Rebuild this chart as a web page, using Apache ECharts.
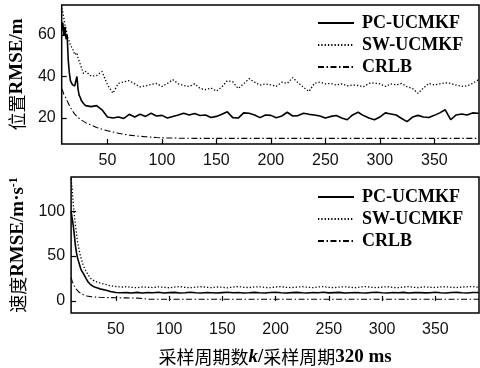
<!DOCTYPE html>
<html>
<head>
<meta charset="utf-8">
<script src="https://cdn.jsdelivr.net/npm/echarts@6/dist/echarts.min.js"></script>
<style>html,body{margin:0;padding:0;background:#fff;}#c{width:480px;height:368px;}</style>
</head>
<body>
<div id="c"></div>
<script>
// sampling periods k
const kValues = [8,9,10,11,12,13,14,15,16,17,18,19,20,21,22,23,24,25,26,27,28,29,30,
  35,40,45,50,55,60,65,70,75,80,85,90,95,100,105,110,115,120,125,130,135,140,145,150,
  155,160,165,170,175,180,185,190,195,200,205,210,215,220,225,230,235,240,245,250,
  255,260,265,270,275,280,285,290,295,300,305,310,315,320,325,330,335,340,345,350,
  355,360,365,370,375,380,385,390,391];
const xTicks = [50,100,150,200,250,300,350];
const posTicks = [20,40,60];
const velTicks = [0,50,100];
const seriesNames = ['PC-UCMKF','SW-UCMKF','CRLB'];

// position RMSE (m)
const pcPos = [62,66,60,64,58,60,48,42,38,37,36,36.5,35.5,38,40,34,31,30,28.5,28,27,27.5,26,
  25.5,26,24,20.5,20,20.5,19.8,21.8,20.5,21.8,20.8,22.3,21,21.3,20,20.8,21.5,22.3,21.5,22.2,21.2,21.5,20.3,20.8,
  21.8,23,20.2,20,22.5,22.3,21.5,20.2,21.5,21.3,20.2,21,22.8,21,21.2,22.3,21.8,21.5,21,20,
  20.8,21.2,20,19.2,21.5,22.8,21.2,20,19.2,20.5,22.5,22,21.5,19.8,18.3,20.5,21.3,20.5,20.3,21.3,
  22.5,24,19.2,21.5,22,21.5,22.5,22.3,22.3];
const swPos = [73,71,68,65,63,60,58,57,55,54.5,53.5,52,50.5,50,51.5,49,47.5,46,44.5,43,41.5,42,42.5,
  40.2,40.5,42.5,36,32,36.7,37.5,38,36.5,35,35.5,36.2,36.7,35.2,36.7,38.5,36.5,35.7,35.2,36.5,34.3,33.7,34.5,33,
  35,38,37.5,34.3,36.5,39,37.3,35.9,36.5,36,35.3,37.3,36.7,39.5,37,34.8,32.8,36.8,37.3,36.5,
  36.7,35.9,36.5,35.5,36,35.7,35.1,36.7,37,36.5,35.2,36.5,36,36.7,35.1,34.3,31.9,34.5,36.7,35.9,
  36.5,37,36.7,35.9,35.3,35.5,36.7,38.3,38];
const crlbPos = [34,33,31.5,30.5,29.5,28.3,27.2,26.2,25.2,24.3,23.3,22.6,21.9,21.3,20.8,20.3,19.9,19.5,19.1,18.7,18.4,18.1,17.8,
  16.6,15.5,14.6,13.9,13.3,12.7,12.2,11.8,11.5,11.2,11,10.8,10.6,10.5,10.4,10.4,10.3,10.3,10.3,10.2,10.2,10.2,10.2,10.2,
  10.2,10.2,10.2,10.2,10.2,10.2,10.2,10.2,10.2,10.2,10.2,10.2,10.2,10.2,10.2,10.2,10.2,10.2,10.2,10.2,
  10.2,10.2,10.2,10.2,10.2,10.2,10.2,10.2,10.2,10.2,10.2,10.2,10.2,10.2,10.2,10.2,10.2,10.2,10.2,10.2,
  10.2,10.2,10.2,10.2,10.2,10.2,10.2,10.2,10.2];

// velocity RMSE (m/s)
const pcVel = [100,92,84,74,62,54,48,44,40,36,33.5,31.5,29.5,27.5,25,23,21,19.5,18.5,17.5,16.7,16,15.5,
  13.4,12.2,10.5,9.3,9,9.2,8.8,9.5,8.7,9.3,9,9.6,8.8,9.2,9.5,8.7,9.1,9.6,9,8.8,9.4,9.1,8.7,9.2,
  9.6,9,9.3,8.8,9.1,9.5,9,8.7,9.3,9.6,9.1,8.8,9.2,9.5,9,8.7,9.3,9.1,9.6,8.9,
  9.2,9.5,8.8,9.1,9.4,9,8.7,9.3,9.6,9.1,8.8,9.4,9,9.5,8.7,9.2,9.4,8.9,9.1,9.6,
  9,8.8,9.3,9.5,9,8.8,9.3,9.4,9.2];
const swVel = [136,125,108,96,85,76,66,60,54,49,45,41,38,36,33,31,29,27,25.5,24.5,23.5,22.8,22,
  20,18.5,16.8,16,15.3,15.8,15,14.7,15.5,15.2,14.8,15.6,15.1,14.6,15.4,15.9,15,14.7,15.3,15.8,15.1,14.8,15.5,15.2,
  14.6,15.4,15.9,15.2,14.8,15.5,15.7,15,14.7,15.4,15.9,15.1,14.8,15.3,15.8,15.2,14.7,15.5,15.9,15,
  14.8,15.4,15.7,15.1,14.7,15.5,15.9,15.2,14.8,15.3,15.8,15,14.7,15.4,15.9,15.1,14.8,15.6,15.2,14.9,
  15.5,15.8,15.1,14.8,15.4,15.7,15.9,15.2,15.4];
const crlbVel = [26,22,19,16.5,14.5,12.8,11.3,10.2,9.2,8.4,7.7,7.1,6.6,6.2,5.8,5.5,5.2,5,4.8,4.6,4.4,4.3,4.1,
  4,3.8,3.6,3.5,3.4,3.3,3.2,3.1,2.6,1.9,1.8,1.8,1.8,1.8,1.8,1.8,1.8,1.8,1.8,1.8,1.8,1.8,1.8,1.8,
  1.8,1.8,1.8,1.8,1.8,1.8,1.8,1.8,1.8,1.8,1.8,1.8,1.8,1.8,1.8,1.8,1.8,1.8,1.8,1.8,
  1.8,1.8,1.8,1.8,1.8,1.8,1.8,1.8,1.8,1.8,1.8,1.8,1.8,1.8,1.8,1.8,1.8,1.8,1.8,1.8,
  1.8,1.8,1.8,1.8,1.8,1.8,1.8,1.8,1.8];

const pairs = arr => kValues.map((k, i) => [k, arr[i]]);
const SERIF = 'Liberation Serif';
const SANS = 'Liberation Sans';
const CJK = 'Noto Sans CJK SC';

const styles = [
  { type: 'solid', width: 1.6 },
  { type: [1.3, 2], width: 1.3 },
  { type: [6, 2.5, 1.5, 2.5], width: 1.1 }
];

function mkSeries(name, idx, data, axisIdx) {
  return {
    type: 'line', name: name, xAxisIndex: axisIdx, yAxisIndex: axisIdx,
    data: pairs(data), symbol: 'none', showSymbol: false, smooth: false,
    lineStyle: Object.assign({ color: '#000' }, styles[idx]),
    itemStyle: { color: '#000' }, animation: false, silent: true
  };
}

function xAx(gi, withName) {
  const a = {
    type: 'value', gridIndex: gi, min: 8, max: 391,
    axisLine: { show: false },
    axisTick: { show: true, inside: true, length: 5, customValues: xTicks, lineStyle: { color: '#000', width: 1.2 } },
    axisLabel: { customValues: xTicks, fontSize: 16, fontFamily: SANS, color: '#111', margin: 9 },
    splitLine: { show: false }
  };
  if (withName) {
    a.name = '{c|采样周期数}{k|k}{r|/}{c|采样周期}{r|320 ms}';
    a.nameLocation = 'middle';
    a.nameGap = 35;
    a.nameTextStyle = {
      color: '#000',
      rich: {
        c: { fontFamily: CJK, fontSize: 18, color: '#000' },
        k: { fontFamily: SERIF, fontSize: 19, fontStyle: 'italic', fontWeight: 'bold', color: '#000' },
        r: { fontFamily: SERIF, fontSize: 19, fontWeight: 'bold', color: '#000' }
      }
    };
  }
  return a;
}

function yAx(gi, min, max, ticks, name) {
  return {
    type: 'value', gridIndex: gi, min: min, max: max,
    axisLine: { show: false },
    axisTick: { show: true, inside: true, length: 5, customValues: ticks, lineStyle: { color: '#000', width: 1.2 } },
    axisLabel: { customValues: ticks, fontSize: 16, fontFamily: SANS, color: '#111', margin: 6 },
    splitLine: { show: false },
    name: name, nameLocation: 'middle', nameRotate: 90, nameGap: 33,
    nameTextStyle: {
      color: '#000',
      rich: {
        c: { fontFamily: CJK, fontSize: 18, color: '#000' },
        r: { fontFamily: SERIF, fontSize: 19, fontWeight: 'bold', color: '#000' },
        s: { fontFamily: SERIF, fontSize: 12, fontWeight: 'bold', color: '#000', verticalAlign: 'top', padding: [0, 0, 8, 0] }
      }
    }
  };
}

function legend(top) {
  return {
    data: seriesNames, orient: 'vertical', left: 312, top: top,
    itemWidth: 36, itemHeight: 12, itemGap: 3, selectedMode: false,
    itemStyle: { color: 'rgba(0,0,0,0)', borderWidth: 0, opacity: 0 },
    textStyle: { fontFamily: SERIF, fontWeight: 'bold', fontSize: 18, color: '#000', lineHeight: 19, padding: [0, 0, 0, 3] }
  };
}

const chart = echarts.init(document.getElementById('c'), null, { renderer: 'canvas' });
chart.setOption({
  animation: false,
  backgroundColor: '#fff',
  grid: [
    { left: 59, top: 5, width: 420, height: 139, show: true, borderColor: '#000', borderWidth: 1.5, backgroundColor: 'transparent' },
    { left: 59, top: 177, width: 420, height: 139, show: true, borderColor: '#000', borderWidth: 1.5, backgroundColor: 'transparent' }
  ],
  xAxis: [xAx(0, false), xAx(1, true)],
  yAxis: [
    yAx(0, 7.5, 74.5, posTicks, '{c|位置}{r|RMSE/m}'),
    yAx(1, -13.5, 138, velTicks, '{c|速度}{r|RMSE/m·s}{s|-1}')
  ],
  legend: [legend(8.5), legend(182.5)],
  series: [
    mkSeries(seriesNames[0], 0, pcPos, 0),
    mkSeries(seriesNames[1], 1, swPos, 0),
    mkSeries(seriesNames[2], 2, crlbPos, 0),
    mkSeries(seriesNames[0], 0, pcVel, 1),
    mkSeries(seriesNames[1], 1, swVel, 1),
    mkSeries(seriesNames[2], 2, crlbVel, 1)
  ]
});
</script>
</body>
</html>
